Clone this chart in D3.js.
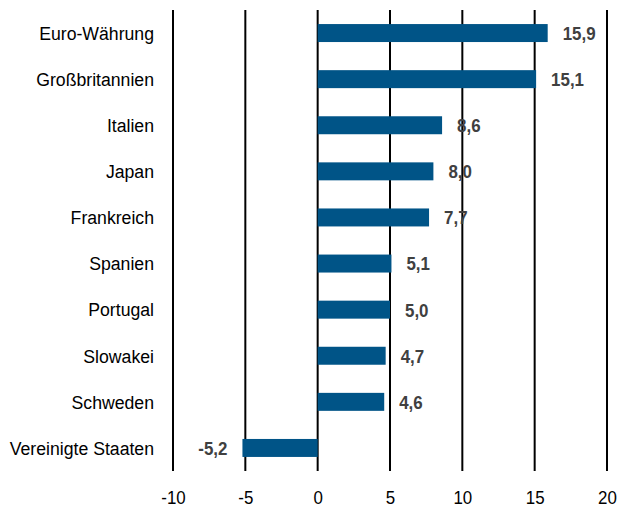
<!DOCTYPE html>
<html>
<head>
<meta charset="utf-8">
<script src="https://cdn.jsdelivr.net/npm/d3@7"></script>
<style>
  body { margin: 0; background: #fff; }
  text { font-family: "Liberation Sans", Arial, sans-serif; }
</style>
</head>
<body>
<svg id="chart" width="618" height="508"></svg>
<script>
// chart data
var countries = ["Euro-Währung", "Großbritannien", "Italien", "Japan", "Frankreich",
                 "Spanien", "Portugal", "Slowakei", "Schweden", "Vereinigte Staaten"];
var values = [15.9, 15.1, 8.6, 8.0, 7.7, 5.1, 5.0, 4.7, 4.6, -5.2];
var xTicks = [-10, -5, 0, 5, 10, 15, 20];

var svg = d3.select("#chart");

var margin = { top: 10, right: 11, bottom: 37, left: 173 };
var plotWidth = 618 - margin.left - margin.right;
var plotHeight = 508 - margin.top - margin.bottom;
var squeeze = 0.89;    // no narrow font installed, so squeeze text horizontally
var catSqueeze = 0.93;

var plot = svg.append("g")
  .attr("transform", "translate(" + margin.left + "," + margin.top + ")");

var x = d3.scaleLinear()
  .domain([-10, 20])
  .range([0, plotWidth]);

var y = d3.scaleBand()
  .domain(countries)
  .range([0, plotHeight])
  .paddingInner(0.61)
  .paddingOuter(0.305);

// vertical grid lines
plot.selectAll("line.grid")
  .data(xTicks)
  .enter().append("line")
  .attr("class", "grid")
  .attr("x1", function(d) { return x(d); })
  .attr("x2", function(d) { return x(d); })
  .attr("y1", 0)
  .attr("y2", plotHeight)
  .attr("stroke", "#000")
  .attr("stroke-width", 2);

// bars
plot.selectAll("rect.bar")
  .data(values)
  .enter().append("rect")
  .attr("class", "bar")
  .attr("x", function(d) { return x(Math.min(0, d)); })
  .attr("width", function(d) { return Math.abs(x(d) - x(0)); })
  .attr("y", function(d, i) { return y(countries[i]); })
  .attr("height", y.bandwidth())
  .attr("fill", "#005487");

// value labels
var fmt = function(v) { return v.toFixed(1).replace(".", ","); };
plot.selectAll("text.val")
  .data(values)
  .enter().append("text")
  .attr("class", "val")
  .attr("transform", function(d, i) {
    var px = d < 0 ? x(d) - 15 : x(d) + 15;
    var py = y(countries[i]) + y.bandwidth() / 2;
    return "translate(" + px + "," + py + ") scale(" + squeeze + ",1)";
  })
  .attr("dy", "0.36em")
  .attr("text-anchor", function(d) { return d < 0 ? "end" : "start"; })
  .style("font-size", "19px")
  .style("font-weight", "bold")
  .attr("fill", "#404040")
  .text(fmt);

// category labels
plot.selectAll("text.cat")
  .data(countries)
  .enter().append("text")
  .attr("class", "cat")
  .attr("transform", function(d) {
    return "translate(-19," + (y(d) + y.bandwidth() / 2) + ") scale(" + catSqueeze + ",1)";
  })
  .attr("dy", "0.36em")
  .attr("text-anchor", "end")
  .style("font-size", "19px")
  .attr("fill", "#000")
  .text(function(d) { return d; });

// x axis labels
var xAxis = d3.axisBottom(x).tickValues(xTicks).tickSize(0).tickPadding(0)
  .tickFormat(function(d) { return d; });
var xGroup = plot.append("g")
  .attr("transform", "translate(0," + plotHeight + ")")
  .call(xAxis);
xGroup.select(".domain").remove();
xGroup.selectAll("text")
  .attr("y", 0)
  .attr("dy", 0)
  .attr("transform", "translate(0,33) scale(" + squeeze + ",1)")
  .style("font-size", "19px")
  .style("font-family", "Liberation Sans, Arial, sans-serif")
  .attr("fill", "#000");
</script>
</body>
</html>
